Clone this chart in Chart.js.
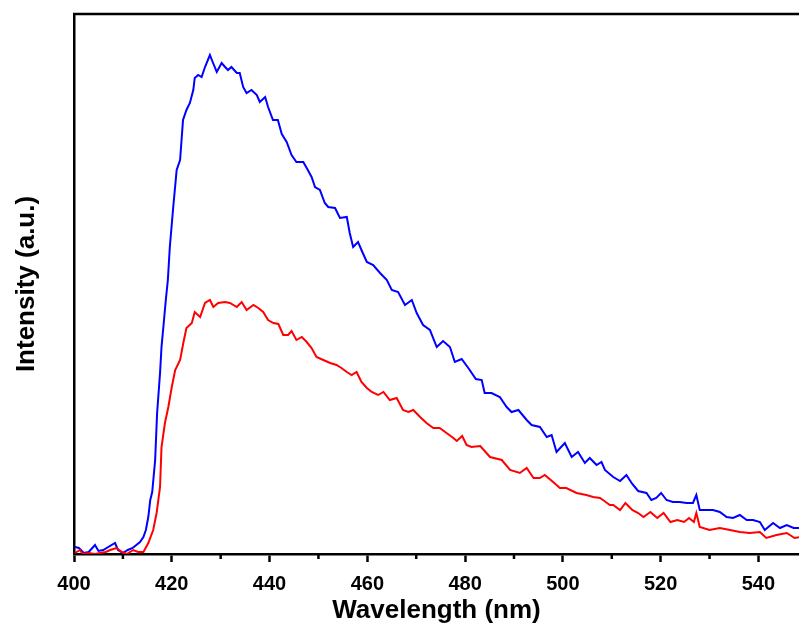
<!DOCTYPE html>
<html>
<head>
<meta charset="utf-8">
<script src="https://cdn.jsdelivr.net/npm/chart.js@4/dist/chart.umd.min.js"></script>
<style>
  body { margin: 0; background: #fff; }
</style>
</head>
<body>
<canvas id="spectrum-chart" width="799" height="630"></canvas>
<script>
// values (intensity in arbitrary units, baseline = 0)
const blueWavelength = [400.2, 401, 402, 403, 404.3, 405, 406, 407, 408.4, 409, 410, 411, 412, 413.5, 414.2, 414.7, 415.2, 415.6, 416.0, 416.6, 417.0, 417.6, 417.9, 418.3, 418.8, 419.2, 419.6, 420.3, 421.0, 421.7, 422.0, 422.3, 423.0, 423.7, 424.4, 424.7, 425.4, 426.1, 426.8, 427.8, 428.2, 429.2, 430.2, 430.9, 431.5, 432.2, 433.3, 433.9, 434.6, 435.3, 436.3, 437.4, 438.0, 439.1, 439.7, 440.7, 441.7, 442.5, 443.5, 444.5, 445.5, 446.9, 447.6, 448.6, 449.3, 450.3, 451.3, 452.0, 453.4, 454.4, 455.8, 456.4, 457.1, 458.1, 458.8, 459.9, 461.2, 462.6, 464.0, 465.0, 466.3, 467.7, 469.1, 470.1, 471.4, 472.8, 474.2, 475.5, 476.9, 477.9, 479.3, 480.8, 482.2, 483.4, 484.0, 485.4, 487.1, 488.5, 489.5, 490.9, 492.6, 493.6, 495.3, 496.7, 497.7, 498.7, 500.4, 501.8, 503.1, 504.5, 505.5, 506.9, 507.9, 508.6, 510.3, 511.7, 513.0, 514.2, 515.4, 517.1, 518.1, 519.1, 520.1, 521.2, 522.5, 523.9, 525.3, 526.6, 527.3, 528.0, 529.4, 530.7, 532.1, 533.5, 534.8, 536.2, 537.6, 538.9, 540.3, 541.3, 543.0, 544.4, 545.8, 547.2, 548.5];
const blueIntensity = [7, 6, 1, 2, 9, 3, 4, 7, 11, 4, 1, 4, 6, 12, 17, 24, 37, 54, 62, 94, 141, 181, 207, 228, 255, 274, 307, 347, 384, 394, 414, 434, 444, 451, 464, 476, 479, 477, 487, 499, 494, 482, 491, 487, 484, 487, 481, 481, 467, 461, 464, 459, 452, 457, 447, 434, 434, 420, 412, 399, 392, 392, 386, 377, 367, 364, 351, 347, 346, 336, 337, 321, 307, 312, 304, 292, 289, 281, 274, 264, 262, 249, 254, 241, 229, 224, 207, 213, 207, 192, 195, 185, 175, 174, 161, 161, 157, 147, 142, 144, 134, 129, 127, 117, 119, 102, 111, 97, 102, 91, 96, 89, 92, 84, 77, 73, 79, 70, 63, 61, 54, 56, 61, 54, 52, 52, 51, 51, 59, 44, 44, 44, 42, 37, 36, 39, 34, 34, 32, 24, 31, 26, 29, 26, 26];

const redWavelength = [400.2, 401.2, 401.8, 403, 404.3, 405.3, 406.5, 407.4, 408.7, 409.8, 410.8, 412.1, 413.1, 414.2, 415.2, 416.2, 416.9, 417.6, 417.9, 418.6, 419.3, 420.0, 420.7, 421.7, 422.4, 423.0, 424.1, 424.7, 425.8, 426.8, 427.8, 428.5, 429.5, 430.9, 431.9, 433.3, 434.3, 435.3, 436.7, 437.7, 438.7, 439.7, 440.8, 441.8, 442.8, 443.8, 444.5, 445.5, 446.6, 447.6, 448.6, 449.6, 451.0, 452.4, 453.7, 454.7, 455.8, 456.8, 457.8, 458.8, 459.9, 460.9, 462.2, 463.3, 464.6, 466.0, 467.3, 468.4, 469.4, 470.8, 472.1, 473.5, 474.8, 476.2, 477.6, 478.3, 479.4, 480.3, 481.3, 483.1, 485.1, 487.5, 489.2, 491.2, 492.6, 494.0, 495.3, 496.3, 498.0, 499.4, 500.7, 502.8, 504.8, 506.2, 507.6, 508.2, 509.6, 510.3, 511.7, 512.8, 514.2, 515.4, 516.5, 517.9, 519.3, 520.6, 522.0, 523.4, 524.8, 525.8, 526.8, 527.3, 528.0, 530.0, 532.1, 534.2, 536.2, 538.2, 540.3, 541.6, 543.7, 545.8, 547.4, 548.5];
const redIntensity = [1, 4, 0, 1, 0, 1, 2, 4, 6, 2, 0, 4, 2, 2, 11, 24, 41, 67, 107, 131, 147, 167, 184, 194, 212, 226, 231, 242, 237, 251, 254, 247, 251, 252, 251, 247, 252, 244, 249, 246, 242, 234, 231, 230, 219, 219, 223, 214, 217, 212, 206, 197, 194, 191, 189, 186, 182, 179, 182, 172, 166, 162, 159, 162, 154, 156, 144, 142, 144, 137, 131, 126, 126, 121, 116, 113, 118, 109, 107, 108, 97, 94, 84, 81, 86, 76, 76, 79, 72, 66, 66, 61, 59, 57, 56, 54, 49, 49, 44, 51, 44, 41, 37, 42, 36, 41, 32, 34, 32, 36, 32, 41, 27, 24, 26, 24, 22, 21, 22, 16, 19, 21, 16, 17];

const majorTicks = [400, 420, 440, 460, 480, 500, 520, 540];
const minorTicks = [410, 430, 450, 470, 490, 510, 530];

const toPoints = (xs, ys) => xs.map((x, i) => ({x: x, y: ys[i]}));

// top frame line + short minor ticks under the x axis
const frameAndMinorTicks = {
    id: 'frameAndMinorTicks',
    afterDraw(chart) {
        const ctx = chart.ctx;
        const {left, right, top, bottom} = chart.chartArea;
        const xScale = chart.scales.x;
        ctx.save();
        ctx.strokeStyle = '#000';
        ctx.lineWidth = 2.5;
        ctx.beginPath();
        ctx.moveTo(left - 1, top);
        ctx.lineTo(right, top);
        minorTicks.forEach(v => {
            const px = xScale.getPixelForValue(v);
            ctx.moveTo(px, bottom);
            ctx.lineTo(px, bottom + 5);
        });
        ctx.stroke();
        ctx.restore();
    }
};

const font = "'Liberation Sans', Arial, sans-serif";

new Chart(document.querySelector('#spectrum-chart').getContext('2d'), {
    type: 'line',
    data: {
        datasets: [
            {
                data: toPoints(redWavelength, redIntensity),
                borderColor: '#ff0000',
                borderWidth: 2,
                pointRadius: 0,
                tension: 0
            },
            {
                data: toPoints(blueWavelength, blueIntensity),
                borderColor: '#0000ff',
                borderWidth: 2,
                pointRadius: 0,
                tension: 0
            }
        ]
    },
    options: {
        responsive: false,
        animation: false,
        layout: {padding: {top: 14, right: 0, left: 0, bottom: 0}},
        plugins: {legend: {display: false}, tooltip: {enabled: false}},
        scales: {
            x: {
                type: 'linear',
                min: 400,
                max: 548.3,
                afterBuildTicks: scale => { scale.ticks = majorTicks.map(v => ({value: v})); },
                afterFit: scale => { scale.height = 76; },
                grid: {drawOnChartArea: false, color: '#000', tickLength: 8, tickWidth: 2.5},
                border: {display: true, color: '#000', width: 2.5},
                ticks: {color: '#000', padding: 10, maxRotation: 0, font: {family: font, size: 20, weight: 'bold'}},
                title: {
                    display: true,
                    text: 'Wavelength (nm)',
                    color: '#000',
                    padding: {top: 0, bottom: 4},
                    font: {family: font, size: 26, weight: 'bold'}
                }
            },
            y: {
                min: 0,
                max: 540,
                afterFit: scale => { scale.width = 74; },
                grid: {display: false},
                border: {display: true, color: '#000', width: 2.5},
                ticks: {display: false},
                title: {
                    display: true,
                    text: 'Intensity (a.u.)',
                    color: '#000',
                    padding: {top: 11, bottom: 0},
                    font: {family: font, size: 26, weight: 'bold'}
                }
            }
        }
    },
    plugins: [frameAndMinorTicks]
});
</script>
</body>
</html>
